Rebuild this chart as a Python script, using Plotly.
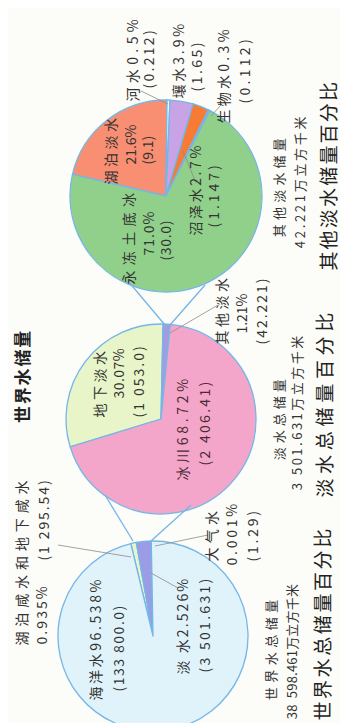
import plotly.graph_objects as go

W, H = 348, 723

# 世界水总储量 (万立方千米)
world_labels = ['湖泊咸水和地下咸水', '淡水', '大气水', '海洋水']
world_values = [1295.54, 3501.631, 1.29, 133800.0]

# 淡水总储量
fresh_labels = ['地下淡水', '其他淡水', '冰川']
fresh_values = [1053.0, 42.221, 2406.41]

# 其他淡水储量
other_labels = ['湖泊淡水', '河水', '土壤水', '沼泽水', '生物水', '永冻土底冰']
other_values = [9.1, 0.212, 1.65, 1.147, 0.112, 30.0]

world_colors = ['#e8f5c8', '#9c9ce6', '#f5a9cc', '#e0f3fa']
fresh_colors = ['#e8f5c9', '#a39ce2', '#f3a6c9']
other_colors = ['#f98f72', '#eef8e6', '#c8a3e6', '#f77b35', '#79aee6', '#91d08a']

EDGE = '#74b6e8'
FONT = 'Noto Sans CJK SC'


def dom(cx, cy, r):
    return dict(x=[(cx - r) / W, (cx + r) / W], y=[1 - (cy + r) / H, 1 - (cy - r) / H])


def add_pie(fig, labels, values, colors, cx, cy, r, rotation):
    fig.add_trace(go.Pie(labels=labels, values=values, sort=False, direction='clockwise',
                         rotation=rotation, textinfo='none', hoverinfo='label+value',
                         marker=dict(colors=colors, line=dict(color=EDGE, width=1.3)),
                         domain=dom(cx, cy, r), showlegend=False))


def add_line(fig, x0, y0, x1, y1, color, width):
    fig.add_shape(type='line', xref='paper', yref='paper',
                  x0=x0 / W, y0=1 - y0 / H, x1=x1 / W, y1=1 - y1 / H,
                  line=dict(color=color, width=width))


def add_text(fig, text, x, y, size=14, ls=2.0, color='#333333', bold=False, shift=None):
    # rotated CJK text lands a little right of its anchor, pull it back
    x = x - (0.6 * size if shift is None else shift)
    t = f"<span style='letter-spacing:{ls}px'>{text}</span>"
    if bold:
        t = '<b>' + t + '</b>'
    fig.add_annotation(x=x / W, y=1 - y / H, xref='paper', yref='paper', text=t,
                       textangle=-90, showarrow=False, xanchor='center', yanchor='middle',
                       font=dict(size=size, color=color, family=FONT))


fig = go.Figure()

add_pie(fig, other_labels, other_values, other_colors, 158, 188, 96, -77)
add_pie(fig, fresh_labels, fresh_values, fresh_colors, 153, 411, 95, -107)
add_pie(fig, world_labels, world_values, world_colors, 145, 628, 95, -13.5)

# zoom connectors
add_line(fig, 125, 533, 97, 487, EDGE, 1.3)
add_line(fig, 143, 533, 183, 497, EDGE, 1.3)
add_line(fig, 157, 317, 120, 273, EDGE, 1.3)
add_line(fig, 162, 317, 197, 277, EDGE, 1.3)

# leader lines
GREY = '#8c8c8c'
add_line(fig, 175, 143, 188, 175, GREY, 0.8)
add_line(fig, 133, 83, 160, 96, GREY, 0.8)
add_line(fig, 214, 96, 203, 108, GREY, 0.8)
add_line(fig, 210, 297, 162, 325, GREY, 0.8)
add_line(fig, 200, 527, 147, 538, GREY, 0.8)
add_line(fig, 170, 580, 143, 565, GREY, 0.8)
add_line(fig, 50, 537, 123, 549, GREY, 0.8)

# bottom pie labels
add_text(fig, '海洋水96.538%', 95, 631, ls=2.6)
add_text(fig, '(133 800.0)', 118, 640, ls=1.5)
add_text(fig, '淡 水2.526%', 182, 618, ls=2.1)
add_text(fig, '(3 501.631)', 204, 617, ls=2.3)
add_text(fig, '湖泊咸水和地下咸水', 21, 553, ls=4.9)
add_text(fig, '0.935%', 41, 607, ls=2.1)
add_text(fig, '(1 295.54)', 43, 512, ls=1.9)
add_text(fig, '大气水', 211, 526, ls=4.3)
add_text(fig, '0.001%', 231, 525, ls=2.8)
add_text(fig, '(1.29)', 252, 527, ls=2.8)
add_text(fig, '世界水总储量', 270, 640, size=13, ls=4.5)
add_text(fig, '38  598.461万立方千米', 291, 644, size=13, ls=0.2)
add_text(fig, '世界水总储量百分比', 324, 616, size=19, ls=2.6, color='#222222')

# middle pie labels
add_text(fig, '世界水储量', 14, 368, size=17, ls=1.8, color='#222222', bold=True, shift=1)
add_text(fig, '地下淡水', 99, 375, ls=3.5)
add_text(fig, '30.07%', 118, 365, ls=0.5)
add_text(fig, '(1 053.0)', 138, 373, ls=2)
add_text(fig, '冰川68.72%', 182, 420, ls=3.7, color='#4a2a33')
add_text(fig, '(2 406.41)', 204, 415, ls=2.3, color='#4a2a33')
add_text(fig, '其他淡水', 221, 302, ls=3.5)
add_text(fig, '1.21%', 241, 306, ls=0)
add_text(fig, '(42.221)', 261, 303, ls=2)
add_text(fig, '淡水总储量', 278, 410, size=13, ls=4)
add_text(fig, '3 501.631万立方千米', 296, 404, size=13, ls=2.5)
add_text(fig, '淡水总储量百分比', 327, 395, size=19, ls=4.7, color='#222222')

# top pie labels
add_text(fig, '河水0.5%', 132, 50, ls=4.4)
add_text(fig, '(0.212)', 148, 50, ls=2.3)
add_text(fig, '壤水3.9%', 178, 52, ls=2.9)
add_text(fig, '(1.65)', 196, 58, ls=2.5)
add_text(fig, '生物水0.3%', 223, 67, ls=3.3)
add_text(fig, '(0.112)', 244, 62, ls=3.3)
add_text(fig, '湖泊淡水', 110, 142, ls=3.5)
add_text(fig, '21.6%', 130, 137, ls=0)
add_text(fig, '(9.1)', 147, 142, ls=0)
add_text(fig, '永冻土底冰', 128, 228, ls=5.4)
add_text(fig, '71.0%', 148, 225, ls=1)
add_text(fig, '(30.0)', 165, 232, ls=0.7)
add_text(fig, '沼泽水2.7%', 195, 181, ls=2.6)
add_text(fig, '(1.147)', 213, 187, ls=3)
add_text(fig, '其他淡水储量', 278, 178, size=13, ls=4.2)
add_text(fig, '42.221万立方千米', 299, 173, size=13, ls=2.7)
add_text(fig, '其他淡水储量百分比', 330, 167, size=19, ls=2.2, color='#222222')

fig.update_layout(width=W, height=H, margin=dict(l=0, r=0, t=0, b=0),
                  paper_bgcolor='#fcfcf8', plot_bgcolor='#fcfcf8')

fig.write_html("out.html")
